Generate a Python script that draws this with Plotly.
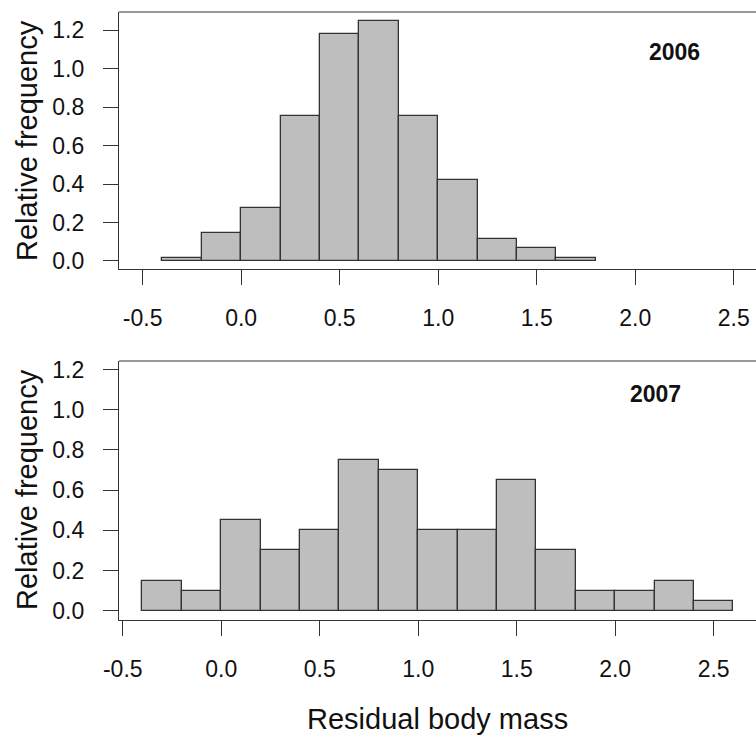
import plotly.graph_objects as go
from plotly.subplots import make_subplots

# histogram bins (left edges, width 0.2) and relative frequencies
bins_2006 = [-0.4, -0.2, 0.0, 0.2, 0.4, 0.6, 0.8, 1.0, 1.2, 1.4, 1.6]
freq_2006 = [0.014, 0.143, 0.277, 0.755, 1.178, 1.247, 0.755, 0.419, 0.116, 0.066, 0.014]

bins_2007 = [-0.4, -0.2, 0.0, 0.2, 0.4, 0.6, 0.8, 1.0, 1.2, 1.4, 1.6, 1.8, 2.0, 2.2, 2.4]
freq_2007 = [0.15, 0.10, 0.45, 0.30, 0.40, 0.75, 0.70, 0.40, 0.40, 0.65, 0.30, 0.10, 0.10, 0.15, 0.05]

bin_width = 0.2
x_ticks = [-0.5, 0.0, 0.5, 1.0, 1.5, 2.0, 2.5]
x_ticktext = ["-0.5", "0.0", "0.5", "1.0", "1.5", "2.0", "2.5"]
y_ticks = [0.0, 0.2, 0.4, 0.6, 0.8, 1.0, 1.2]
y_ticktext = ["0.0", "0.2", "0.4", "0.6", "0.8", "1.0", "1.2"]

FONT = "Liberation Sans, Arial, sans-serif"
EDGE = "#333333"
FILL = "#bebebe"

fig = make_subplots(rows=2, cols=1)

for row, (bins, freq) in enumerate([(bins_2006, freq_2006), (bins_2007, freq_2007)], start=1):
    fig.add_trace(go.Bar(
        x=bins, y=freq, width=bin_width, offset=0,
        marker=dict(color=FILL, line=dict(color=EDGE, width=1.3)),
        showlegend=False, hoverinfo="skip"), row=row, col=1)

axis_common = dict(showgrid=False, zeroline=False, showline=True, linecolor=EDGE, linewidth=1.2,
                   ticks="outside", ticklen=15, tickwidth=1.2, tickcolor=EDGE, automargin=False,
                   tickfont=dict(family=FONT, size=23, color="#111111"))

fig.update_layout(
    width=756, height=736,
    margin=dict(l=119, r=0, t=12, b=116, autoexpand=False),
    plot_bgcolor="white", paper_bgcolor="white",
    bargap=0,
    xaxis=dict(domain=[0, 1], range=[-0.62, 2.613], tickvals=x_ticks, ticktext=x_ticktext,
               ticklabelstandoff=13, anchor="y", **axis_common),
    yaxis=dict(domain=[0.5773, 1.0], range=[-0.0416, 1.2935], tickvals=y_ticks, ticktext=y_ticktext,
               ticklabelstandoff=14, anchor="x", **axis_common),
    xaxis2=dict(domain=[0, 1], range=[-0.519, 2.715], tickvals=x_ticks, ticktext=x_ticktext,
                ticklabelstandoff=13, anchor="y2", **axis_common),
    yaxis2=dict(domain=[0, 0.426], range=[-0.0462, 1.2427], tickvals=y_ticks, ticktext=y_ticktext,
                ticklabelstandoff=14, anchor="x2", **axis_common),
)

# top edge of each box
for yref in ["y domain", "y2 domain"]:
    fig.add_shape(type="line", xref="paper", yref=yref, x0=0, x1=1, y0=1, y1=1,
                  line=dict(color=EDGE, width=1.2))

def px_x(p):
    return (p - 119) / 637

def px_y(p):
    return (620 - p) / 608

# year labels
for txt, x, y in [("2006", 674, 52), ("2007", 655, 394)]:
    fig.add_annotation(text=f"<b>{txt}</b>", xref="paper", yref="paper", x=px_x(x), y=px_y(y),
                       xanchor="center", yanchor="middle", showarrow=False,
                       font=dict(family=FONT, size=23, color="#111111"))

# axis titles
for yc in [141, 490]:
    fig.add_annotation(text="Relative frequency", xref="paper", yref="paper", x=px_x(27), y=px_y(yc),
                       xanchor="center", yanchor="middle", textangle=-90, showarrow=False,
                       font=dict(family=FONT, size=29, color="#111111"))
fig.add_annotation(text="Residual body mass", xref="paper", yref="paper", x=px_x(438), y=px_y(719),
                   xanchor="center", yanchor="middle", showarrow=False,
                   font=dict(family=FONT, size=29, color="#111111"))

# drop the default page margin so the figure sits at the window's corner
fig.write_html("out.html", config={"displayModeBar": False},
               post_script="document.body.style.margin='0';")
